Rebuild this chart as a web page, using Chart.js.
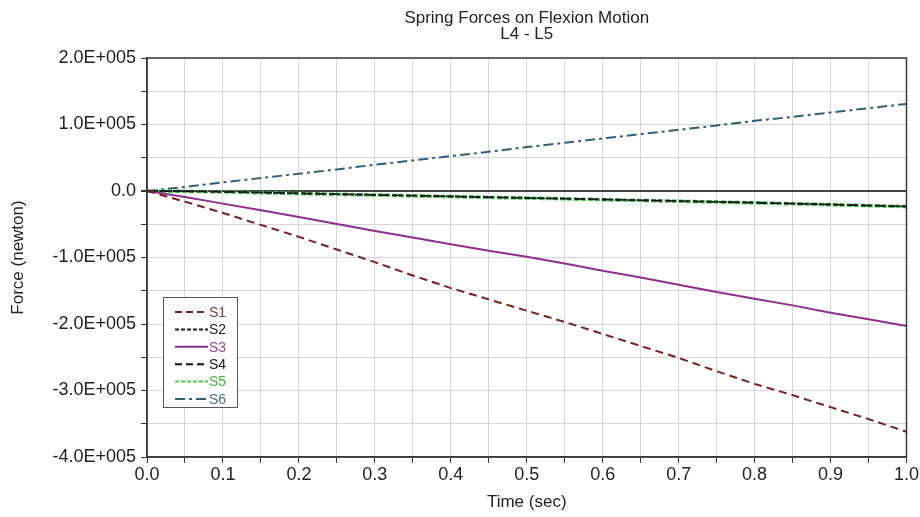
<!DOCTYPE html>
<html>
<head>
<meta charset="utf-8">
<script src="https://cdn.jsdelivr.net/npm/chart.js@4.4.1/dist/chart.umd.min.js"></script>
<style>
html,body{margin:0;padding:0;background:#fff;}
#wrap{width:920px;height:517px;}
</style>
</head>
<body>
<div id="wrap"><canvas id="c" width="920" height="517"></canvas></div>
<script>
// Time (sec)
const timeValues = [0.0,0.05,0.1,0.15,0.2,0.25,0.3,0.35,0.4,0.45,0.5,0.55,0.6,0.65,0.7,0.75,0.8,0.85,0.9,0.95,1.0];
const seriesNames = ['S1','S2','S3','S4','S5','S6'];
// Force (newton)
const s1 = [0,-16000,-33000,-51000,-69000,-88000,-107000,-127000,-146000,-163000,-180000,-197000,-215000,-233000,-251000,-271000,-290000,-307000,-325000,-343000,-362000];
const s2 = [0,-300,-1000,-2200,-3500,-4600,-5700,-6900,-8000,-9200,-10300,-11400,-12600,-13800,-15000,-16200,-17400,-18800,-20200,-21700,-23000];
const s3 = [0,-9000,-19000,-29000,-39000,-49500,-60000,-70000,-80000,-90000,-99000,-109000,-120000,-130000,-141000,-152000,-162000,-172000,-183000,-193000,-203000];
const s4 = [0,-400,-1200,-2400,-3600,-4800,-5900,-7000,-8200,-9400,-10500,-11600,-12800,-14000,-15200,-16400,-17600,-19000,-20400,-21900,-23300];
const s5 = [0,-500,-1400,-2600,-3800,-5000,-6100,-7300,-8400,-9600,-10700,-11800,-13000,-14200,-15400,-16600,-17800,-19200,-20600,-22100,-23500];
const s6 = [0,6000,13000,19500,26000,32500,39500,46000,52500,59000,66000,72500,79000,85500,92000,98500,105500,111500,118000,124500,131000];
const xTickLabels = ['0.0','0.1','0.2','0.3','0.4','0.5','0.6','0.7','0.8','0.9','1.0'];
const yTickLabels = {'200000':'2.0E+005','100000':'1.0E+005','0':'0.0','-100000':'-1.0E+005','-200000':'-2.0E+005','-300000':'-3.0E+005','-400000':'-4.0E+005'};
const titleLines = ['Spring Forces on Flexion Motion','L4 - L5'];

const seriesValues = [s1,s2,s3,s4,s5,s6];
const styles = [
  {color:'#7b1e22', dash:[8,5], width:2, text:'#8a3436'},
  {color:'#1c1c2a', dash:[4,3], width:1.8, text:'#222'},
  {color:'#8e2e8e', dash:[], width:2, text:'#a03ea0'},
  {color:'#111111', dash:[8,5], width:1.8, text:'#111'},
  {color:'#46d046', dash:[5,2], width:3.5, text:'#3bb43b'},
  {color:'#2f5f78', dash:[10,4,3,4], width:2, text:'#3a7396'}
];
const legendDash = [[7,4],[4,2],[],[7,4],[4,2],[10,4,3,4]];

const FONT = '"Liberation Sans", Arial, Helvetica, sans-serif';

const datasets = seriesNames.map((n,i)=>({
  label:n,
  data: timeValues.map((t,k)=>({x:t,y:seriesValues[i][k]})),
  borderColor: styles[i].color,
  backgroundColor: styles[i].color,
  borderDash: styles[i].dash,
  borderWidth: styles[i].width,
  pointRadius:0,
  tension:0,
  fill:false
}));

const titlePlugin = {
  id:'centeredTitle',
  afterDraw(chart){
    const ctx = chart.ctx, a = chart.chartArea;
    const cx = (a.left + a.right)/2;
    ctx.save();
    ctx.fillStyle = '#222';
    ctx.font = '17px ' + FONT;
    ctx.textAlign = 'center';
    ctx.textBaseline = 'middle';
    ctx.fillText(titleLines[0], cx, 18);
    ctx.fillText(titleLines[1], cx, 34);
    ctx.restore();
  }
};

const legendPlugin = {
  id:'innerLegend',
  afterDraw(chart){
    const ctx = chart.ctx, a = chart.chartArea;
    const bx = a.left + 16, by = a.top + 239, bw = 74, bh = 110;
    ctx.save();
    ctx.fillStyle = '#fff';
    ctx.fillRect(bx,by,bw,bh);
    ctx.strokeStyle = '#555';
    ctx.lineWidth = 1;
    ctx.strokeRect(bx+0.5,by+0.5,bw,bh);
    ctx.font = '14px ' + FONT;
    ctx.textBaseline = 'middle';
    ctx.textAlign = 'left';
    seriesNames.forEach((n,i)=>{
      const y = by + 15 + i*17.4;
      ctx.beginPath();
      ctx.setLineDash(legendDash[i]);
      ctx.strokeStyle = styles[i].color;
      ctx.lineWidth = 2;
      ctx.moveTo(bx+12,y); ctx.lineTo(bx+45,y);
      ctx.stroke();
      ctx.setLineDash([]);
      ctx.fillStyle = styles[i].text;
      ctx.fillText(n, bx+46, y+1);
    });
    ctx.restore();
  }
};

const borderPlugin = {
  id:'boxBorder',
  afterDatasetsDraw(chart){
    const ctx = chart.ctx, a = chart.chartArea;
    ctx.save();
    ctx.strokeStyle = '#3a3a3a';
    ctx.lineWidth = 1.5;
    ctx.strokeRect(a.left, a.top, a.right-a.left, a.bottom-a.top);
    ctx.restore();
  }
};

new Chart(document.getElementById('c'),{
  type:'line',
  data:{datasets},
  plugins:[borderPlugin, legendPlugin, titlePlugin],
  options:{
    responsive:false,
    animation:false,
    layout:{padding:{left:0,right:13,top:58,bottom:4}},
    plugins:{
      legend:{display:false},
      tooltip:{enabled:false},
      title:{display:false}
    },
    scales:{
      x:{
        type:'linear',
        min:0,max:1,
        afterBuildTicks(scale){
          scale.ticks = timeValues.map(v=>({value:v}));
        },
        ticks:{
          autoSkip:false,
          maxRotation:0,
          padding:1,
          color:'#222',
          font:{family:FONT,size:18},
          callback(v){
            const k = Math.round(v*100);
            return k % 10 === 0 ? xTickLabels[k/10] : '';
          }
        },
        grid:{color:'#d6d6d6',tickColor:'#333',tickLength:6,lineWidth:1},
        border:{color:'#3a3a3a',width:1.5},
        title:{display:true,text:'Time (sec)',color:'#222',font:{family:FONT,size:17},padding:{top:3,bottom:0}},
        afterFit(scale){ scale.height = 56; }
      },
      y:{
        type:'linear',
        min:-400000,max:200000,
        ticks:{
          stepSize:50000,
          autoSkip:false,
          padding:5,
          color:'#222',
          font:{family:FONT,size:18},
          callback(v){
            const key = String(Math.round(v));
            return (key in yTickLabels) ? yTickLabels[key] : '';
          }
        },
        grid:{
          color(ctx){ return ctx.tick && ctx.tick.value===0 ? '#444' : '#d6d6d6'; },
          lineWidth(ctx){ return ctx.tick && ctx.tick.value===0 ? 2 : 1; },
          tickColor:'#333',tickLength:6
        },
        border:{color:'#3a3a3a',width:1.5},
        title:{display:true,text:'Force (newton)',color:'#222',font:{family:FONT,size:17},padding:{top:8,bottom:0}},
        afterFit(scale){ scale.width = 147; }
      }
    }
  }
});
</script>
</body>
</html>
